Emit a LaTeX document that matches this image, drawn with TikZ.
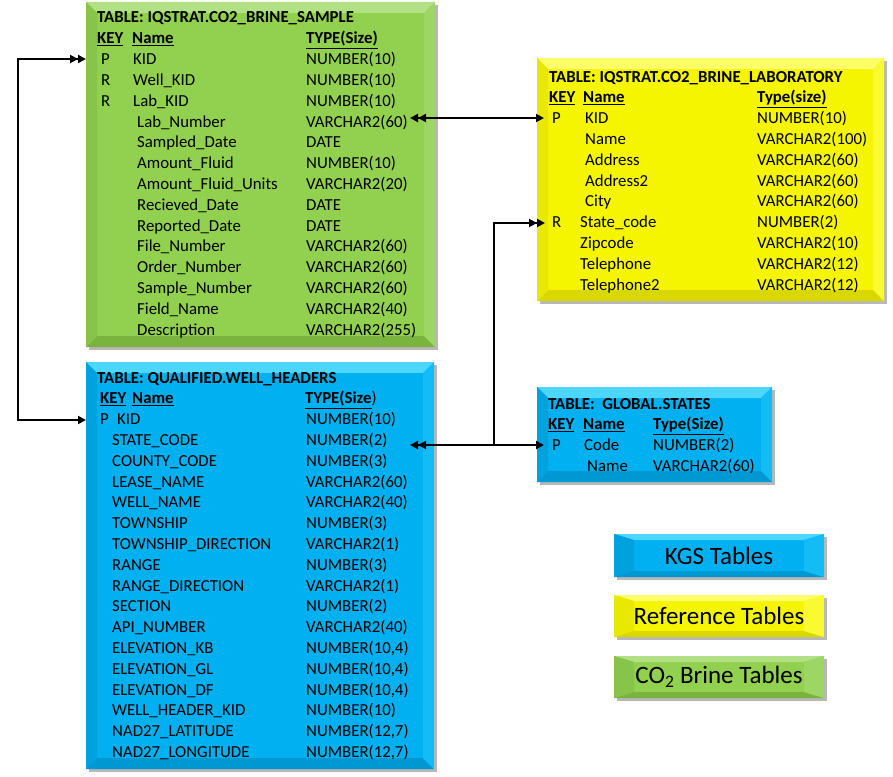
\documentclass[tikz,border=0pt]{standalone}
\usepackage{fontspec}
\setmainfont{Carlito}
\usetikzlibrary{arrows.meta}
\definecolor{gmain}{HTML}{92D050}
\definecolor{gtop}{HTML}{B2E084}
\definecolor{gbot}{HTML}{7AB43E}
\definecolor{gleft}{HTML}{86C44A}
\definecolor{gright}{HTML}{9ED666}
\definecolor{bmain}{HTML}{00B0F0}
\definecolor{btop}{HTML}{4DD6FF}
\definecolor{bbot}{HTML}{0098D2}
\definecolor{bleft}{HTML}{00A2DE}
\definecolor{bright}{HTML}{14BCF6}
\definecolor{ymain}{HTML}{F5F500}
\definecolor{ytop}{HTML}{FFFF6A}
\definecolor{ybot}{HTML}{D8D800}
\definecolor{yleft}{HTML}{E8E800}
\definecolor{yright}{HTML}{FAFA30}
\newcommand\bevbox[7]{%
  \fill[black!28] (#1+3,#2+3) rectangle (#3+3,#4+3);
  \fill[#5main] (#1,#2) rectangle (#3,#4);
  \fill[#5top] (#1,#2) -- (#3,#2) -- (#3-#6,#2+#7) -- (#1+#6,#2+#7) -- cycle;
  \fill[#5bot] (#1,#4) -- (#3,#4) -- (#3-#6,#4-#7) -- (#1+#6,#4-#7) -- cycle;
  \fill[#5left] (#1,#2) -- (#1+#6,#2+#7) -- (#1+#6,#4-#7) -- (#1,#4) -- cycle;
  \fill[#5right] (#3,#2) -- (#3-#6,#2+#7) -- (#3-#6,#4-#7) -- (#3,#4) -- cycle;
}
\newcommand\nt[4]{\node[txt] (#1) at (#2,#3) {#4};}
\newcommand\tnode[4]{\node[ttl] (#1) at (#2,#3) {#4};}
\begin{document}
\begin{tikzpicture}[x=1pt,y=-1pt,
  txt/.style={anchor=base west,inner sep=0pt,font=\fontsize{16.8}{20}\selectfont,text=black},
  ttl/.style={txt,font=\fontsize{16.8}{20}\selectfont\bfseries},
  leg/.style={inner sep=0pt,font=\fontsize{25}{30}\selectfont,text=black},
  conn/.style={line width=2pt,black},
  stip/.tip={Triangle[length=8pt,width=8pt]},
  dtip/.tip={Triangle[length=8pt,width=8pt]Triangle[length=8pt,width=8pt]}]
\useasboundingbox[fill=white] (0,0) rectangle (893,776);
% boxes
\bevbox{86}{2}{435}{347}{g}{11}{11}
\bevbox{86}{362}{434}{769}{b}{11}{11}
\bevbox{537}{58}{884}{301}{y}{11}{11}
\bevbox{537}{387}{772}{482}{b}{11}{11}
\bevbox{614}{534}{824}{577}{b}{20}{6}
\bevbox{614}{595}{824}{637}{y}{20}{6}
\bevbox{614}{656}{824}{698}{g}{20}{6}
% green table
\tnode{gT}{97}{23}{TABLE: IQSTRAT.CO2\_BRINE\_SAMPLE}
\tnode{gHk}{97}{43.8}{\underline{KEY}}
\tnode{gHn}{132}{43.8}{\underline{Name}}
\tnode{gHt}{306}{43.8}{\underline{TYPE(Size)}}
\nt{g2k}{101}{64.6}{P}\nt{g2n}{133}{64.6}{KID}\nt{g2t}{306}{64.6}{NUMBER(10)}
\nt{g3k}{101}{85.4}{R}\nt{g3n}{133}{85.4}{Well\_KID}\nt{g3t}{306}{85.4}{NUMBER(10)}
\nt{g4k}{101}{106.2}{R}\nt{g4n}{133}{106.2}{Lab\_KID}\nt{g4t}{306}{106.2}{NUMBER(10)}
\nt{g5n}{137}{127}{Lab\_Number}\nt{g5t}{306}{127}{VARCHAR2(60)}
\nt{g6n}{137}{147.8}{Sampled\_Date}\nt{g6t}{306}{147.8}{DATE}
\nt{g7n}{137}{168.6}{Amount\_Fluid}\nt{g7t}{306}{168.6}{NUMBER(10)}
\nt{g8n}{137}{189.4}{Amount\_Fluid\_Units}\nt{g8t}{306}{189.4}{VARCHAR2(20)}
\nt{g9n}{137}{210.2}{Recieved\_Date}\nt{g9t}{306}{210.2}{DATE}
\nt{g10n}{137}{231}{Reported\_Date}\nt{g10t}{306}{231}{DATE}
\nt{g11n}{137}{251.8}{File\_Number}\nt{g11t}{306}{251.8}{VARCHAR2(60)}
\nt{g12n}{137}{272.6}{Order\_Number}\nt{g12t}{306}{272.6}{VARCHAR2(60)}
\nt{g13n}{137}{293.4}{Sample\_Number}\nt{g13t}{306}{293.4}{VARCHAR2(60)}
\nt{g14n}{137}{314.2}{Field\_Name}\nt{g14t}{306}{314.2}{VARCHAR2(40)}
\nt{g15n}{137}{335}{Description}\nt{g15t}{306}{335}{VARCHAR2(255)}
% well headers
\tnode{wT}{97}{383}{TABLE: QUALIFIED.WELL\_HEADERS}
\tnode{wHk}{100}{403.8}{\underline{KEY}}
\tnode{wHn}{132}{403.8}{\underline{Name}}
\tnode{wHt}{305}{403.8}{\underline{TYPE(Size}\mdseries)}
\nt{w2k}{100}{424.6}{P}\nt{w2n}{117}{424.6}{KID}\nt{w2t}{306}{424.6}{NUMBER(10)}
\nt{w3n}{112}{445.4}{STATE\_CODE}\nt{w3t}{306}{445.4}{NUMBER(2)}
\nt{w4n}{112}{466.2}{COUNTY\_CODE}\nt{w4t}{306}{466.2}{NUMBER(3)}
\nt{w5n}{112}{487}{LEASE\_NAME}\nt{w5t}{306}{487}{VARCHAR2(60)}
\nt{w6n}{112}{507.8}{WELL\_NAME}\nt{w6t}{306}{507.8}{VARCHAR2(40)}
\nt{w7n}{112}{528.6}{TOWNSHIP}\nt{w7t}{306}{528.6}{NUMBER(3)}
\nt{w8n}{112}{549.4}{TOWNSHIP\_DIRECTION}\nt{w8t}{306}{549.4}{VARCHAR2(1)}
\nt{w9n}{112}{570.2}{RANGE}\nt{w9t}{306}{570.2}{NUMBER(3)}
\nt{w10n}{112}{591}{RANGE\_DIRECTION}\nt{w10t}{306}{591}{VARCHAR2(1)}
\nt{w11n}{112}{611.8}{SECTION}\nt{w11t}{306}{611.8}{NUMBER(2)}
\nt{w12n}{112}{632.6}{API\_NUMBER}\nt{w12t}{306}{632.6}{VARCHAR2(40)}
\nt{w13n}{112}{653.4}{ELEVATION\_KB}\nt{w13t}{306}{653.4}{NUMBER(10,4)}
\nt{w14n}{112}{674.2}{ELEVATION\_GL}\nt{w14t}{306}{674.2}{NUMBER(10,4)}
\nt{w15n}{112}{695}{ELEVATION\_DF}\nt{w15t}{306}{695}{NUMBER(10,4)}
\nt{w16n}{112}{715.8}{WELL\_HEADER\_KID}\nt{w16t}{306}{715.8}{NUMBER(10)}
\nt{w17n}{112}{736.6}{NAD27\_LATITUDE}\nt{w17t}{306}{736.6}{NUMBER(12,7)}
\nt{w18n}{112}{757.4}{NAD27\_LONGITUDE}\nt{w18t}{306}{757.4}{NUMBER(12,7)}
% laboratory
\tnode{lT}{549}{82}{TABLE: IQSTRAT.CO2\_BRINE\_LABORATORY}
\tnode{lHk}{549}{102.8}{\underline{KEY}}
\tnode{lHn}{583}{102.8}{\underline{Name}}
\tnode{lHt}{757}{102.8}{\underline{Type(size)}}
\nt{l2k}{552}{123.6}{P}\nt{l2n}{585}{123.6}{KID}\nt{l2t}{757}{123.6}{NUMBER(10)}
\nt{l3n}{585}{144.4}{Name}\nt{l3t}{757}{144.4}{VARCHAR2(100)}
\nt{l4n}{585}{165.2}{Address}\nt{l4t}{757}{165.2}{VARCHAR2(60)}
\nt{l5n}{585}{186}{Address2}\nt{l5t}{757}{186}{VARCHAR2(60)}
\nt{l6n}{585}{206.8}{City}\nt{l6t}{757}{206.8}{VARCHAR2(60)}
\nt{l7k}{552}{227.6}{R}\nt{l7n}{580}{227.6}{State\_code}\nt{l7t}{757}{227.6}{NUMBER(2)}
\nt{l8n}{580}{248.4}{Zipcode}\nt{l8t}{757}{248.4}{VARCHAR2(10)}
\nt{l9n}{580}{269.2}{Telephone}\nt{l9t}{757}{269.2}{VARCHAR2(12)}
\nt{l10n}{580}{290}{Telephone2}\nt{l10t}{757}{290}{VARCHAR2(12)}
% states
\tnode{sT}{548}{409}{TABLE:\ \ GLOBAL.STATES}
\tnode{sHk}{548}{429.8}{\underline{KEY}}
\tnode{sHn}{583}{429.8}{\underline{Name}}
\tnode{sHt}{653}{429.8}{\underline{Type(Size)}}
\nt{s2k}{552}{450.6}{P}\nt{s2n}{584}{450.6}{Code}\nt{s2t}{653}{450.6}{NUMBER(2)}
\nt{s3n}{587}{471.4}{Name}\nt{s3t}{653}{471.4}{VARCHAR2(60)}
% legend
\node[leg] (kgs) at (719,556) {KGS Tables};
\node[leg] (ref) at (719,616) {Reference Tables};
\node[leg] (co2) at (719,677) {CO\textsubscript{2} Brine Tables};
% connectors
\coordinate (a1) at (86,59);
\coordinate (a2) at (18,59);
\coordinate (a3) at (18,420);
\coordinate (a4) at (86,420);
\draw[conn,{stip}-{dtip}] (a4) -- (a3) -- (a2) -- (a1);
\coordinate (b1) at (410,118);
\coordinate (b2) at (544,118);
\draw[conn,{dtip}-{stip}] (b1) -- (b2);
\coordinate (c1) at (410,445);
\coordinate (c2) at (544,445);
\coordinate (c3) at (494,445);
\coordinate (c4) at (494,223);
\coordinate (c5) at (545,223);
\draw[conn,{dtip}-{stip}] (c1) -- (c2);
\draw[conn,-{dtip}] (c3) -- (c4) -- (c5);
\end{tikzpicture}
\end{document}
